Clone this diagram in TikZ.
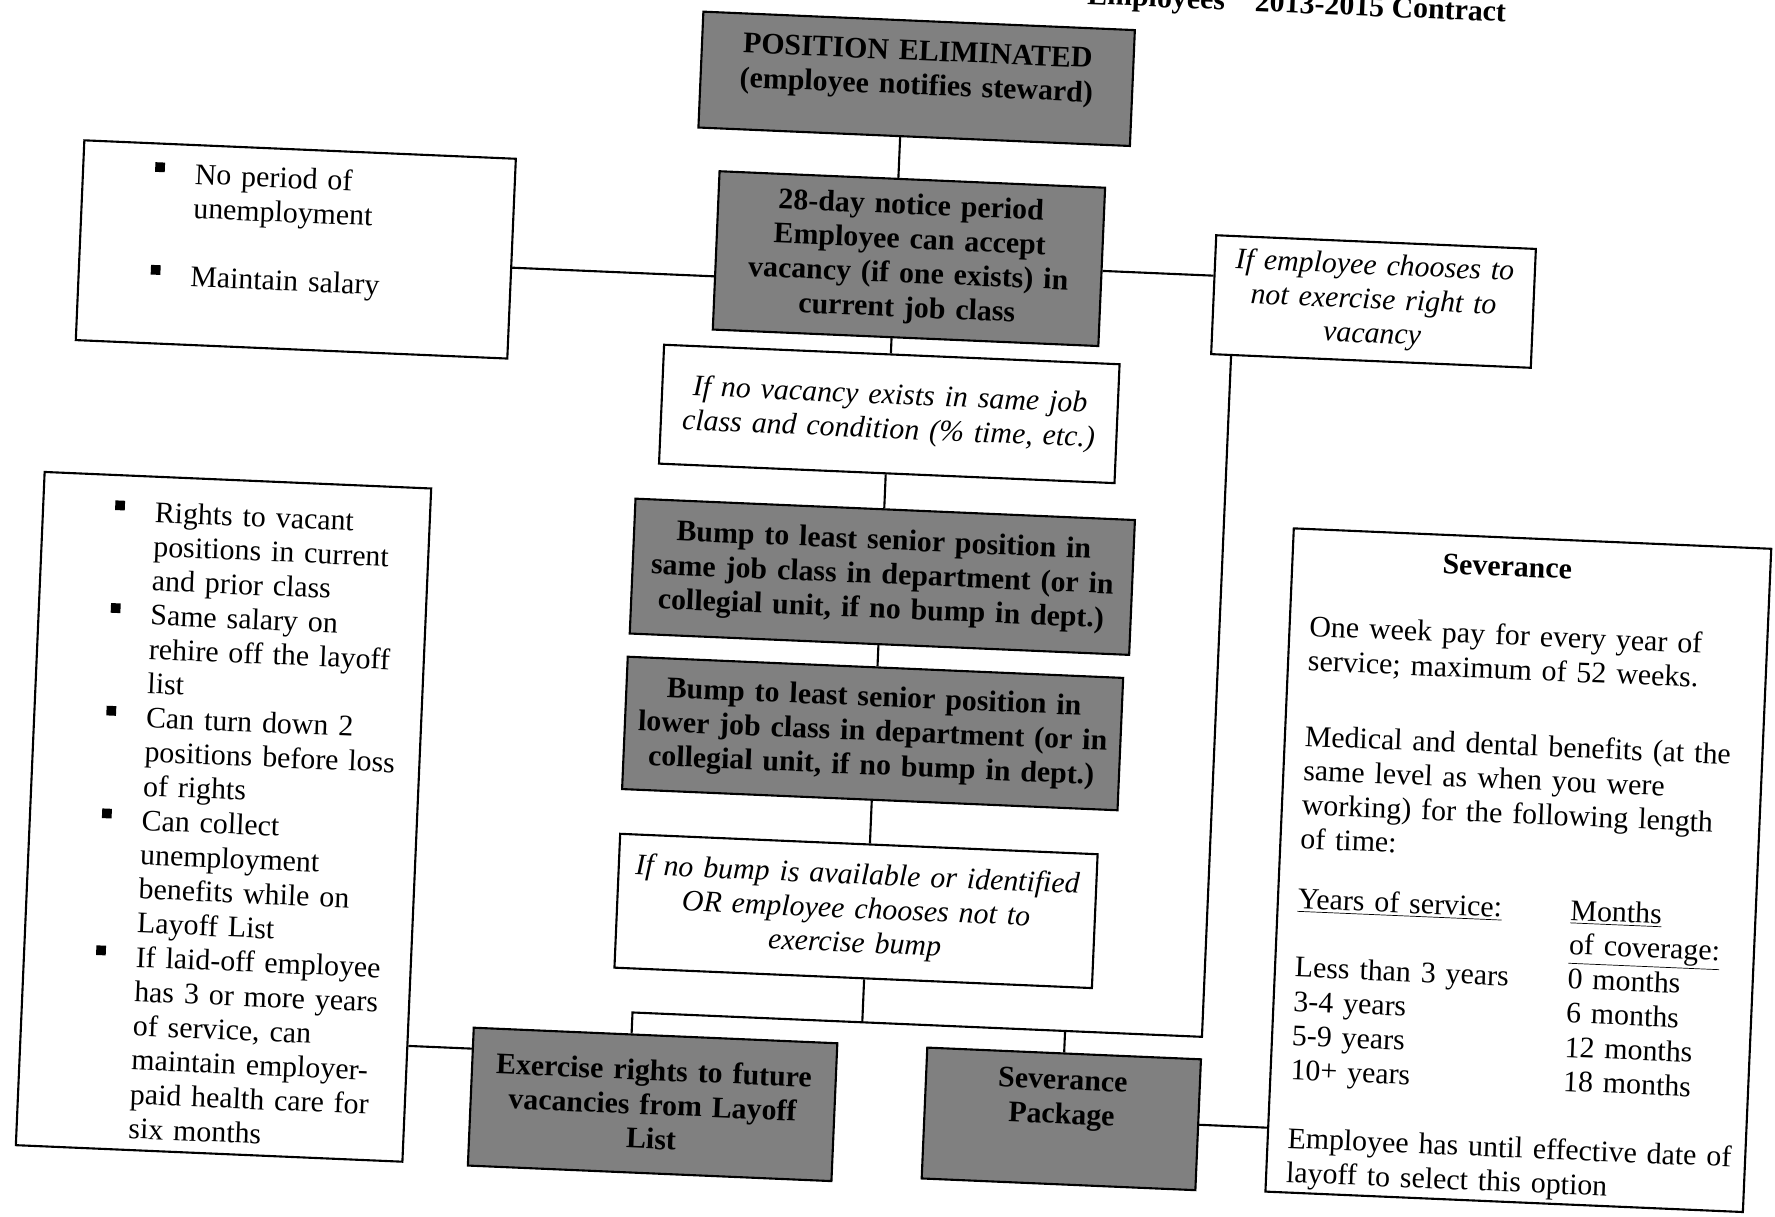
\documentclass[tikz,border=0pt]{standalone}
\usepackage{fontspec}
\setmainfont{Liberation Serif}
\usetikzlibrary{calc}

\newcommand{\sqbullet}{\rule[6pt]{5.5pt}{5.5pt}}
\newenvironment{sqlist}[1]{%
  \begin{list}{\sqbullet}{%
    \setlength{\leftmargin}{2.24cm}%
    \setlength{\labelwidth}{5.5pt}%
    \setlength{\labelsep}{\dimexpr 0.8cm-5.5pt\relax}%
    \setlength{\itemsep}{#1}%
    \setlength{\parsep}{0pt}%
    \setlength{\topsep}{0pt}%
    \setlength{\partopsep}{0pt}}}%
  {\end{list}}
\newcommand{\padbelow}[1]{\par\vspace{#1}\hrule height 0pt}
\newcommand{\sevrow}[2]{\makebox[5.46cm][l]{#1}#2}

\tikzset{
  graybox/.style={draw, fill=black!50, font=\bfseries\fontsize{17}{19.5}\selectfont, align=center, inner sep=0pt},
  notebox/.style={draw, fill=white, font=\itshape\fontsize{17}{19.5}\selectfont, align=center, inner sep=0pt},
  listbox/.style={draw, fill=white, font=\fontsize{17}{19.5}\selectfont, align=left, inner sep=0pt}
}

\begin{document}
\begin{tikzpicture}[x=0.02cm,y=-0.02cm,line width=1.2pt]
  \useasboundingbox (0,0) rectangle (1775,1217);
  \clip (0,0) rectangle (1775,1217);
  \begin{scope}[transform canvas={rotate around={-2.45:(887,608)}}]
    \node[anchor=base east, font=\bfseries\fontsize{17}{19.5}\selectfont] (title) at (1487,-4) {Employees\quad 2013-2015 Contract};

    \node[graybox, text width=8.64cm, minimum height=2.32cm] (elim) at (894,78) {POSITION ELIMINATED\\(employee notifies steward)\padbelow{0.32cm}};
    \node[graybox, text width=7.72cm, minimum height=3.17cm] (notice) at (894,258) {28-day notice period\\Employee can accept\\vacancy (if one exists) in\\current job class};
    \node[notebox, text width=9.12cm, minimum height=2.38cm] (novac) at (881,414) {If no vacancy exists in same job\\class and condition (\% time, etc.)};
    \node[graybox, text width=10cm, minimum height=2.7cm] (bumpsame) at (881,577) {Bump to least senior position in\\same job class in department (or in\\collegial unit, if no bump in dept.)};
    \node[graybox, text width=9.92cm, minimum height=2.65cm] (bumplow) at (878,734) {Bump to least senior position in\\lower job class in department (or in\\collegial unit, if no bump in dept.)};
    \node[notebox, text width=9.56cm, minimum height=2.68cm] (nobump) at (869,912) {If no bump is available or identified\\OR employee chooses not to\\exercise bump};
    \node[graybox, text width=7.28cm, minimum height=2.76cm] (layoff) at (674,1114) {Exercise rights to future\\vacancies from Layoff\\List};
    \node[graybox, text width=5.48cm, minimum height=2.62cm] (package) at (1083,1111) {Severance\\Package\padbelow{0.76cm}};
    \node[notebox, text width=6.4cm, minimum height=2.38cm] (choose) at (1360,281) {If employee chooses to\\not exercise right to\\vacancy};

    \node[listbox, text width=8.64cm, minimum height=4cm] (keep) at (281,275) {%
      \begin{sqlist}{19.5pt}
        \item No period of\\unemployment
        \item Maintain salary
      \end{sqlist}\padbelow{0.94cm}};
    \node[listbox, text width=7.74cm, minimum height=13.48cm] (rights) at (233,845) {%
      \begin{sqlist}{0pt}
        \item Rights to vacant\\positions in current\\and prior class
        \item Same salary on\\rehire off the layoff\\list
        \item Can turn down 2\\positions before loss\\of rights
        \item Can collect\\unemployment\\benefits while on\\Layoff List
        \item If laid-off employee\\has 3 or more years\\of service, can\\maintain employer-\\paid health care for\\six months
      \end{sqlist}};
    \node[listbox, text width=8.76cm, inner xsep=0.4cm, minimum height=13.28cm] (sevbox) at (1529,843) {%
      \makebox[7.8cm]{\rule{0pt}{0.7cm}\bfseries Severance}\par\vspace{19.5pt}
      One week pay for every year of\\
      service; maximum of 52 weeks.\par\vspace{23.5pt}
      Medical and dental benefits (at the\\
      same level as when you were\\
      working) for the following length\\
      of time:\par\vspace{14.5pt}
      \sevrow{\underline{Years of service:}}{\underline{Months}}\\
      \sevrow{}{\underline{of coverage:}}\\
      \sevrow{Less than 3 years}{0 months}\\
      \sevrow{3-4 years}{6 months}\\
      \sevrow{5-9 years}{12 months}\\
      \sevrow{10+ years}{18 months}\par\vspace{19.5pt}
      \mbox{Employee has until effective date of}\\
      layoff to select this option};

    \coordinate (spine) at (880,0);
    \coordinate (rowkeep) at (0,284);
    \coordinate (rowchoose) at (0,262);
    \coordinate (rowlayoff) at (0,1066);
    \coordinate (busleft) at (650,1023);
    \coordinate (busright) at (1220,1023);

    \draw (elim.south -| spine) -- (notice.north -| spine);
    \draw (notice.south -| spine) -- (novac.north -| spine);
    \draw (novac.south -| spine) -- (bumpsame.north -| spine);
    \draw (bumpsame.south -| spine) -- (bumplow.north -| spine);
    \draw (bumplow.south -| spine) -- (nobump.north -| spine);
    \draw (nobump.south -| spine) -- (spine |- busleft);
    \draw (layoff.north -| busleft) -- (busleft) -- (busright) -- (choose.south -| busright);
    \draw (package.north) -- (package.north |- busleft);
    \draw (keep.east |- rowkeep) -- (notice.west |- rowkeep);
    \draw (notice.east |- rowchoose) -- (choose.west |- rowchoose);
    \draw (rights.east |- rowlayoff) -- (layoff.west |- rowlayoff);
    \draw (package.east) -- (sevbox.west |- package.east);
  \end{scope}
\end{tikzpicture}
\end{document}
